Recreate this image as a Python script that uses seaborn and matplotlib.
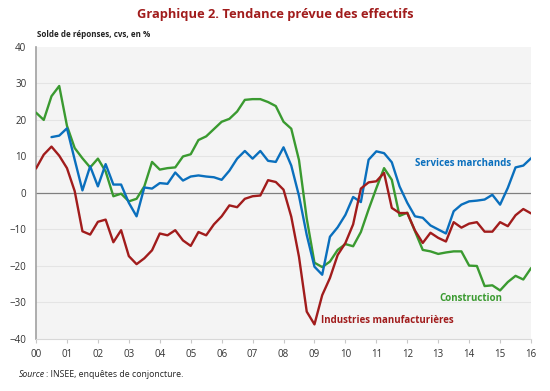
import numpy as np
import pandas as pd
import matplotlib
matplotlib.use("Agg")
import matplotlib.pyplot as plt
import seaborn as sns

# Quarterly balances of opinion, 2000Q1 -> 2016Q1
construction = [22.0, 20.0, 26.5, 29.3, 18.4, 12.3, 9.5, 7.0, 9.4, 5.9,
                -0.9, -0.2, -2.3, -1.6, 1.8, 8.5, 6.4, 6.8, 7.0, 10.0,
                10.6, 14.5, 15.5, 17.5, 19.5, 20.3, 22.3, 25.5, 25.7, 25.7,
                24.9, 23.8, 19.5, 17.6, 9.0, -7.0, -19.1, -20.3, -18.8, -15.6,
                -14.0, -14.6, -10.7, -4.5, 1.3, 6.8, 3.6, -6.3, -5.4, -10.5,
                -15.6, -16.0, -16.7, -16.3, -16.0, -16.0, -19.9, -20.0, -25.5, -25.3,
                -26.7, -24.4, -22.7, -23.7, -20.6]
services = [np.nan, np.nan, 15.3, 15.7, 17.7, 9.1, 0.7, 7.3, 1.8, 7.9,
            2.3, 2.3, -2.7, -6.4, 1.5, 1.2, 2.7, 2.5, 5.6, 3.4,
            4.5, 4.8, 4.5, 4.3, 3.6, 6.1, 9.4, 11.5, 9.4, 11.5,
            8.8, 8.5, 12.5, 7.5, -0.8, -11.5, -20.2, -22.4, -12.0, -9.4,
            -6.0, -1.1, -2.5, 9.1, 11.4, 10.9, 8.4, 1.8, -2.7, -6.4,
            -6.8, -8.9, -10.0, -11.1, -5.0, -3.2, -2.3, -2.1, -1.8, -0.5,
            -3.2, 1.4, 7.0, 7.5, 9.5]
industrie = [6.7, 10.5, 12.7, 10.2, 6.8, 0.5, -10.5, -11.4, -7.9, -7.3,
             -13.5, -10.2, -17.3, -19.5, -17.9, -15.7, -11.1, -11.6, -10.2, -13.0,
             -14.5, -10.7, -11.6, -8.6, -6.4, -3.4, -3.9, -1.6, -0.9, -0.7,
             3.5, 3.0, 0.9, -6.5, -17.5, -32.5, -36.0, -28.0, -23.3, -17.0,
             -13.7, -8.6, 1.2, 2.9, 3.2, 5.5, -4.1, -5.5, -5.5, -10.3,
             -13.7, -10.9, -12.3, -13.3, -8.0, -9.5, -8.4, -8.0, -10.6, -10.6,
             -8.0, -9.1, -6.1, -4.4, -5.6]

years = list(range(2000, 2017))
year_labels = [f"{y % 100:02d}" for y in years]
series_names = ["Construction", "Services marchands", "Industries manufacturières"]
colors = {"Construction": "#3a9a30", "Services marchands": "#0a6fbd",
          "Industries manufacturières": "#a11c1c"}

dates = 2000 + np.arange(len(construction)) / 4
df = pd.concat([
    pd.DataFrame({"date": dates, "valeur": vals, "serie": name})
    for name, vals in zip(series_names, [construction, services, industrie])
], ignore_index=True)

sns.set_style("white")
plt.rcParams["font.family"] = ["Open Sans", "DejaVu Sans"]

fig = plt.figure(figsize=(5.5, 3.91), dpi=100)
ax = fig.add_axes([0.0655, 0.133, 0.9, 0.747])
ax.set_facecolor("#f4f4f4")

for v in [-30, -20, -10, 10, 20, 30]:
    ax.axhline(v, color="#e4e4e4", lw=0.8, zorder=0)
ax.axhline(0, color="#7f7f7f", lw=0.9, zorder=1)

sns.lineplot(data=df, x="date", y="valeur", hue="serie", palette=colors,
             hue_order=series_names, linewidth=1.7, legend=False, ax=ax, zorder=3)

ax.set_xlim(2000, 2016)
ax.set_ylim(-40, 40)
ax.set_xticks(years)
ax.set_xticklabels(year_labels)
ax.set_yticks(range(-40, 41, 10))
ax.set_xlabel("")
ax.set_ylabel("")
ax.tick_params(axis="x", length=3, width=0.8, color="#c8c8c8", labelsize=7,
               labelcolor="#333333", pad=4, direction="out", bottom=True)
ax.tick_params(axis="y", length=0, labelsize=7, labelcolor="#333333", pad=7)

for side in ["top", "right"]:
    ax.spines[side].set_visible(False)
ax.spines["left"].set_color("#a0a0a0")
ax.spines["left"].set_linewidth(1.2)
ax.spines["bottom"].set_color("#d8d8d8")
ax.spines["bottom"].set_linewidth(0.8)

ax.text(2012.25, 8.2, "Services marchands", color=colors["Services marchands"],
        fontsize=7, fontweight="bold", va="center")
ax.text(2013.05, -28.8, "Construction", color=colors["Construction"],
        fontsize=7, fontweight="bold", va="center")
ax.text(2009.22, -35.0, "Industries manufacturières",
        color=colors["Industries manufacturières"], fontsize=7, fontweight="bold",
        va="center")

fig.text(0.5, 0.962, "Graphique 2. Tendance prévue des effectifs", color="#a11c1c",
         fontsize=9.3, fontweight="bold", ha="center", va="center")
fig.text(0.068, 0.912, "Solde de réponses, cvs, en %", fontsize=5.8,
         fontweight="bold", color="#222222", va="center")
fig.text(0.035, 0.043, "Source", fontsize=6.3, style="italic", color="#222222", va="center")
fig.text(0.083, 0.043, ": INSEE, enquêtes de conjoncture.", fontsize=6.3,
         color="#222222", va="center")

fig.savefig("out.png", dpi=100)
